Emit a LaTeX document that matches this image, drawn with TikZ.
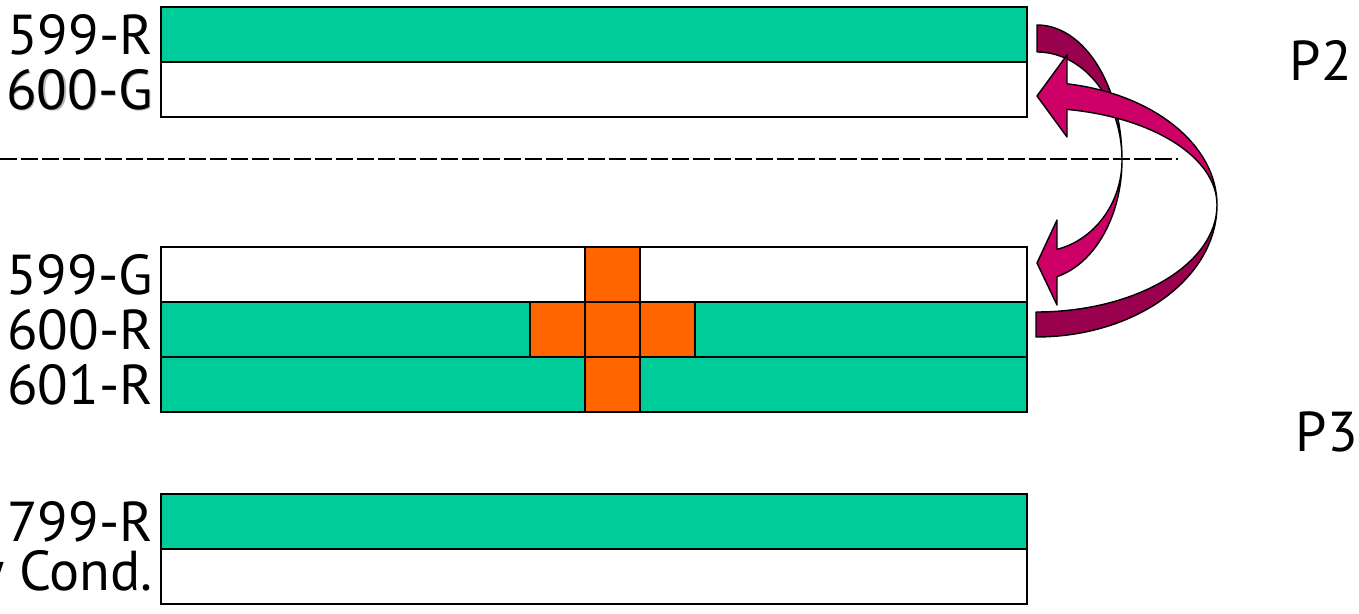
\documentclass[tikz,border=0pt]{standalone}
\usepackage{fontspec}
\setmainfont{PT Sans}
\usepackage{tikz}
\definecolor{stripgreen}{RGB}{0,204,153}
\definecolor{blockorange}{RGB}{255,102,0}
\definecolor{arrowpink}{RGB}{204,0,102}
\definecolor{arrowdark}{RGB}{153,0,77}

\begin{document}
\begin{tikzpicture}[x=0.02cm,y=-0.02cm,
  strip/.style={draw,line width=1pt,minimum width=17.32cm,minimum height=1.1cm,inner sep=0pt,outer sep=0pt},
  cell/.style={draw,line width=1pt,fill=blockorange,minimum size=1.1cm,inner sep=0pt},
  rowlabel/.style={anchor=east,inner sep=0pt,font=\fontsize{32}{36}\selectfont},
  parttag/.style={inner sep=0pt,font=\fontsize{32}{36}\selectfont},
  band/.style={draw,line width=0.8pt,line join=round}]
  \useasboundingbox (0,0) rectangle (1359,614);
  % rows of the three groups
  \foreach \name/\y/\col/\txt in {top1/34.5/stripgreen/599-R, top2/89.5/white/{},
      mid1/274.5/white/599-G, mid2/329.5/stripgreen/600-R, mid3/384.5/stripgreen/601-R,
      bot1/521.5/stripgreen/799-R, bot2/576.5/white/Any Cond.} {
    \node[strip,fill=\col] (\name) at (594,\y) {};
    \node[rowlabel] (\name lbl) at ([xshift=-0.16cm]\name.west) {\txt};
  }
  \node[rowlabel,gray!55] (top2shadow) at ([xshift=-0.13cm,yshift=-0.03cm]top2.west) {600-G};
  \node[rowlabel] (top2txt) at ([xshift=-0.16cm]top2.west) {600-G};
  % the cross
  \foreach \x/\y [count=\k] in {612.5/274.5, 557.5/329.5, 612.5/329.5, 667.5/329.5, 612.5/384.5}
    \node[cell] (cell\k) at (\x,\y) {};
  % arrow down (599-R to 599-G)
  \filldraw[band,fill=arrowdark] (1037,25) arc[start angle=-90,end angle=-25,x radius=85,y radius=135]
    -- ({1037+85*cos(-25)},{160+108*sin(-25)}) arc[start angle=-25,end angle=-90,x radius=85,y radius=108] -- cycle;
  \filldraw[band,fill=arrowpink] ({1037+85*cos(-25)},{160+135*sin(-25)})
    arc[start angle=-25,end angle=0,x radius=85,y radius=135]
    arc[start angle=0,end angle=76.39,x radius=85,y radius=120]
    -- (1057,305) -- (1037,263) -- (1057,220) -- (1057,249.4)
    arc[start angle=76.39,end angle=0,x radius=85,y radius=92]
    arc[start angle=0,end angle=-25,x radius=85,y radius=108] -- cycle;
  % arrow up (600-R to 600-G)
  \filldraw[band,fill=arrowdark] (1217,205) arc[start angle=0,end angle=90,x radius=181,y radius=132]
    -- (1036,312) arc[start angle=90,end angle=0,x radius=181,y radius=107] -- cycle;
  \filldraw[band,fill=arrowpink] (1067,83.8) arc[start angle=-80.14,end angle=0,x radius=181,y radius=123]
    arc[start angle=0,end angle=-80.14,x radius=181,y radius=97]
    -- (1067,137) -- (1037,96) -- (1067,55) -- cycle;
  % partition line
  \draw[dash pattern=on 0.34cm off 0.08cm,line width=1.2pt] (0,159) -- (1178,159);
  \node[parttag] (p2) at (1321,60) {P2};
  \node[parttag] (p3) at (1327,432) {P3};
\end{tikzpicture}
\end{document}
